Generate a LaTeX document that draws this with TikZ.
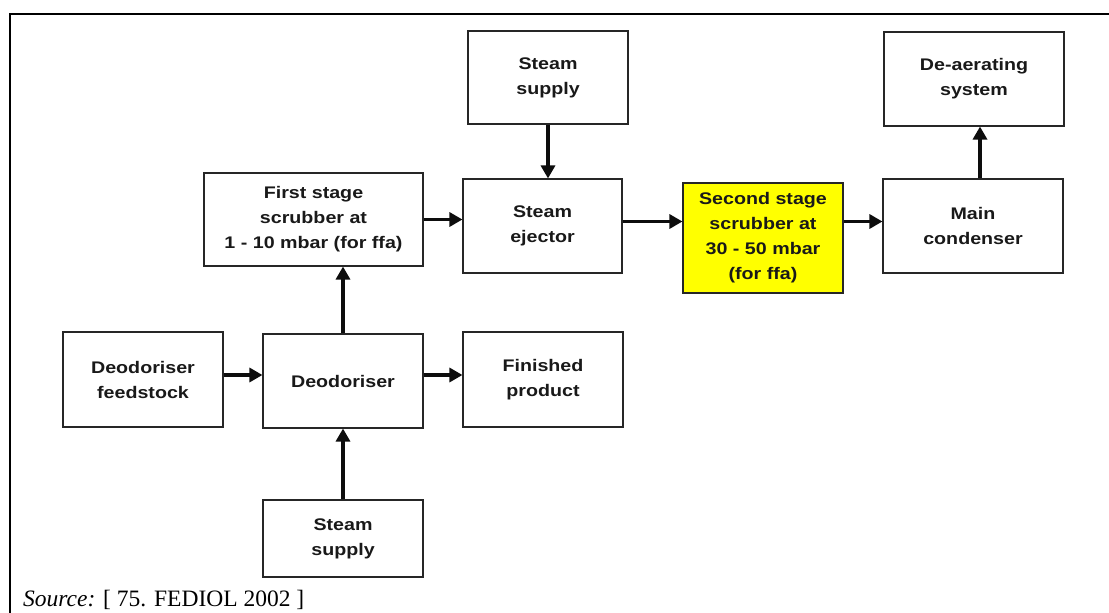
\documentclass[tikz,border=0pt]{standalone}
\usepackage{fontspec}
\setmainfont{Liberation Sans}
\newfontfamily\boxfont[FakeStretch=1.17]{Liberation Sans Bold}
\newfontfamily\srcfont{Liberation Serif}
\usetikzlibrary{arrows.meta,calc}
\definecolor{scrubyellow}{RGB}{255,255,0}
\definecolor{txt}{RGB}{25,25,25}
\begin{document}
\begin{tikzpicture}[x=1pt,y=-1pt,
  blk/.style={draw=black!85,line width=1.1pt,fill=white,rectangle,inner sep=0pt,
    align=center,text=txt,font=\boxfont\fontsize{16.8}{25}\selectfont},
  arr/.style={line width=3.2pt,-{Triangle[length=13pt,width=14pt]},draw=black!95}]
\useasboundingbox (0,0) rectangle (1109,613);
\fill[white] (0,0) rectangle (1109,613);
\draw[line width=2.8pt] (1109,14) -- (10,14) -- (10,613);

\node[blk,minimum width=219pt,minimum height=93pt] (fs) at (313.5,219.5) {First stage\\scrubber at\\1 - 10 mbar (for ffa)};
\node[blk,minimum width=160pt,minimum height=93pt] (sst) at (548,77.5) {Steam\\supply};
\node[blk,minimum width=159pt,minimum height=94pt] (ej) at (542.5,226) {Steam\\ejector};
\node[blk,fill=scrubyellow,minimum width=160pt,minimum height=110pt] (ss) at (763,238) {Second stage\\scrubber at\\30 - 50 mbar\\(for ffa)};
\node[blk,minimum width=180pt,minimum height=94pt] (mc) at (973,226) {Main\\condenser};
\node[blk,minimum width=180pt,minimum height=94pt] (da) at (974,79) {De-aerating\\system};
\node[blk,minimum width=160pt,minimum height=95pt] (df) at (143,379.5) {Deodoriser\\feedstock};
\node[blk,minimum width=160pt,minimum height=94pt] (deo) at (343,381) {Deodoriser};
\node[blk,minimum width=160pt,minimum height=95pt] (fp) at (543,379.5) {Finished\\product};
\node[blk,minimum width=160pt,minimum height=77pt] (ssb) at (343,538.5) {Steam\\supply};

% connector end points
\coordinate (a1) at ($(df.east)+(0,-4.5)$);
\coordinate (a2) at (a1 -| deo.west);
\coordinate (b1) at ($(deo.east)+(0,-6)$);
\coordinate (b2) at (b1 -| fp.west);
\coordinate (c1) at ($(ej.east)+(0,-4.5)$);
\coordinate (c2) at (c1 -| ss.west);
\coordinate (d1) at ($(ss.east)+(0,-16.5)$);
\coordinate (d2) at (d1 -| mc.west);
\coordinate (e1) at ($(mc.north)+(7,0)$);
\coordinate (e2) at (e1 |- da.south);

\draw[arr] (a1) -- (a2);
\draw[arr] (b1) -- (b2);
\draw[arr] (deo.north) -- (deo.north |- fs.south);
\draw[arr] (ssb.north) -- (deo.south);
\draw[arr] (fs.east) -- (fs.east -| ej.west);
\draw[arr] (sst.south) -- (sst.south |- ej.north);
\draw[arr] (c1) -- (c2);
\draw[arr] (d1) -- (d2);
\draw[arr] (e1) -- (e2);

\node[anchor=base west,inner sep=0pt,font=\srcfont\fontsize{23.5}{28}\selectfont] (src) at (23,606.5) {\textit{Source:} [ 75. FEDIOL 2002 ]};
\end{tikzpicture}
\end{document}
